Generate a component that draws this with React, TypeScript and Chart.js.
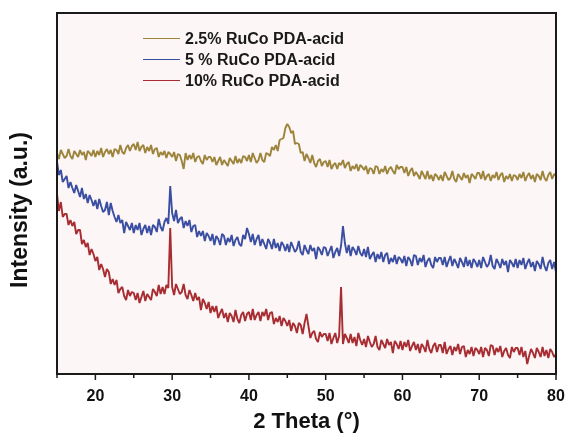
import React, { useEffect, useRef } from "react";
import { Chart, registerables } from "chart.js";

Chart.register(...registerables);

// 2θ grid: 15° to 80° in 0.25° steps (261 points)
const THETA: number[] = Array.from({ length: 261 }, (_, i) => 15 + i * 0.25);

const X_MIN = 15;
const X_MAX = 80;
const X_LABELS = [20, 30, 40, 50, 60, 70, 80];

const SERIES_NAMES = ["2.5% RuCo PDA-acid", "5 % RuCo PDA-acid", "10% RuCo PDA-acid"];

// Intensity (a.u.), one row per 5°
const GOLD: number[] = [
  221, 215, 224, 220, 216, 218, 225, 218, 215, 223, 220, 217, 224, 219, 222, 214, 223, 221, 218, 224,
  217, 223, 219, 226, 217, 222, 225, 220, 224, 217, 225, 224, 220, 229, 222, 220, 226, 229, 223, 228,
  230, 224, 232, 223, 227, 229, 221, 227, 223, 229, 220, 225, 226, 217, 222, 219, 223, 216, 222, 220,
  217, 222, 213, 220, 219, 213, 205, 221, 214, 219, 215, 221, 212, 217, 218, 213, 210, 219, 214, 217,
  217, 212, 217, 209, 213, 217, 209, 214, 211, 208, 216, 213, 210, 218, 211, 215, 211, 218, 217, 213,
  219, 212, 221, 216, 211, 214, 221, 214, 212, 221, 220, 218, 227, 224, 229, 223, 234, 235, 236, 246,
  250, 247, 241, 243, 230, 231, 230, 221, 222, 213, 220, 216, 211, 219, 211, 207, 213, 215, 208, 212,
  213, 207, 214, 205, 209, 211, 205, 211, 209, 214, 206, 210, 212, 203, 208, 205, 210, 203, 209, 207,
  204, 208, 200, 206, 205, 200, 208, 207, 200, 205, 202, 208, 200, 205, 207, 203, 200, 209, 205, 207,
  207, 201, 207, 198, 203, 206, 198, 202, 199, 195, 203, 199, 195, 203, 195, 199, 193, 200, 198, 194,
  199, 193, 202, 198, 194, 196, 203, 195, 192, 200, 197, 194, 201, 196, 199, 191, 200, 198, 195, 201,
  201, 195, 203, 194, 198, 200, 193, 199, 196, 202, 194, 199, 201, 192, 198, 195, 200, 193, 199, 198,
  194, 200, 196, 202, 193, 198, 201, 195, 199, 192, 200, 198, 194, 203, 196, 193, 199, 202, 195, 200,
  198,
];

const BLUE: number[] = [
  212, 199, 204, 192, 195, 198, 186, 192, 186, 181, 189, 183, 177, 186, 175, 180, 171, 179, 174, 168,
  174, 165, 175, 168, 162, 164, 172, 159, 171, 163, 157, 152, 159, 151, 154, 141, 152, 148, 144, 151,
  141, 149, 144, 151, 139, 145, 149, 141, 148, 139, 149, 147, 142, 155, 147, 143, 152, 156, 150, 188,
  161, 153, 164, 151, 155, 157, 146, 153, 148, 154, 142, 148, 149, 137, 143, 138, 143, 133, 141, 138,
  133, 140, 129, 138, 135, 129, 140, 138, 129, 136, 132, 139, 128, 134, 137, 130, 128, 139, 135, 146,
  140, 132, 140, 129, 135, 139, 128, 135, 130, 125, 135, 131, 125, 135, 126, 131, 123, 132, 129, 123,
  130, 122, 132, 127, 122, 125, 133, 122, 119, 129, 124, 120, 129, 123, 126, 115, 127, 124, 119, 127,
  126, 118, 123, 128, 116, 122, 126, 118, 128, 148, 131, 121, 129, 118, 127, 124, 119, 128, 121, 118,
  125, 117, 127, 115, 119, 122, 112, 120, 115, 122, 112, 119, 121, 110, 116, 112, 119, 110, 117, 115,
  111, 118, 108, 117, 114, 108, 119, 118, 109, 116, 112, 119, 107, 113, 116, 109, 106, 117, 112, 116,
  116, 109, 117, 107, 113, 118, 108, 115, 111, 106, 116, 112, 107, 117, 108, 114, 106, 115, 112, 107,
  114, 106, 117, 112, 107, 110, 119, 108, 105, 115, 111, 106, 115, 109, 113, 102, 114, 111, 107, 115,
  106, 114, 109, 116, 105, 111, 115, 107, 112, 103, 113, 110, 105, 117, 108, 103, 111, 114, 105, 112,
  102,
];

const RED: number[] = [
  180, 163, 172, 157, 160, 160, 149, 154, 148, 152, 140, 144, 144, 130, 134, 127, 131, 119, 125, 120,
  113, 117, 104, 110, 105, 97, 105, 102, 90, 95, 89, 94, 81, 85, 87, 78, 74, 84, 78, 82,
  81, 74, 81, 71, 77, 83, 73, 80, 77, 74, 85, 82, 78, 89, 80, 87, 80, 89, 86, 146,
  87, 79, 90, 85, 80, 82, 90, 79, 75, 84, 79, 73, 81, 74, 77, 64, 75, 71, 65, 72,
  61, 68, 62, 68, 56, 61, 65, 56, 61, 52, 61, 58, 52, 64, 55, 51, 59, 62, 53, 60,
  62, 54, 65, 54, 59, 62, 53, 62, 58, 65, 54, 61, 62, 50, 56, 52, 58, 48, 56, 53,
  48, 54, 43, 51, 48, 41, 51, 49, 40, 51, 60, 48, 36, 41, 43, 35, 32, 42, 37, 40,
  40, 33, 41, 30, 36, 41, 31, 38, 87, 30, 40, 36, 31, 40, 31, 37, 28, 41, 34, 29,
  35, 27, 38, 32, 27, 30, 38, 27, 24, 34, 30, 26, 35, 29, 32, 21, 33, 30, 25, 33,
  24, 32, 27, 34, 23, 28, 32, 24, 30, 21, 30, 27, 22, 34, 25, 21, 28, 31, 22, 29,
  29, 21, 32, 20, 25, 28, 19, 27, 23, 30, 20, 27, 28, 17, 24, 20, 27, 18, 26, 24,
  20, 27, 17, 26, 24, 18, 29, 28, 19, 26, 22, 28, 17, 23, 26, 19, 16, 27, 22, 26,
  26, 19, 27, 17, 23, 10, 18, 25, 21, 16, 26, 22, 17, 27, 18, 24, 16, 25, 22, 17,
  20,
];

const COLORS = ["#9d843c", "#3a4ea2", "#a82d32"];
const PLOT_BG = "#fdf6f6";
const FONT = "'Liberation Sans', Arial, Helvetica, sans-serif";

const decorPlugin = {
  id: "decor",
  beforeDraw(chart: any) {
    const { ctx, chartArea: a } = chart;
    ctx.save();
    ctx.fillStyle = "#ffffff";
    ctx.fillRect(0, 0, chart.width, chart.height);
    ctx.fillStyle = PLOT_BG;
    ctx.fillRect(a.left, a.top, a.right - a.left, a.bottom - a.top);
    ctx.restore();
  },
  afterDraw(chart: any) {
    const { ctx, chartArea: a, scales } = chart;
    const xs = scales.x;
    ctx.save();
    // frame
    ctx.strokeStyle = "#1a1a1a";
    ctx.lineWidth = 2;
    ctx.strokeRect(a.left, a.top, a.right - a.left, a.bottom - a.top);
    // tick marks (major every 10, minor every 5)
    ctx.lineWidth = 1.5;
    for (let v = X_MIN; v <= X_MAX; v += 5) {
      const px = xs.getPixelForValue(v);
      const len = v % 10 === 0 ? 6 : 4;
      ctx.beginPath();
      ctx.moveTo(px, a.bottom);
      ctx.lineTo(px, a.bottom + len);
      ctx.stroke();
    }
    // legend
    chart.data.datasets.forEach((ds: any, i: number) => {
      const yLine = 38.5 + i * 21;
      ctx.strokeStyle = ds.borderColor;
      ctx.lineWidth = 1;
      ctx.beginPath();
      ctx.moveTo(143, yLine);
      ctx.lineTo(180, yLine);
      ctx.stroke();
      ctx.fillStyle = "#1a1a1a";
      ctx.font = `bold 16px ${FONT}`;
      ctx.textAlign = "left";
      ctx.textBaseline = "alphabetic";
      ctx.fillText(ds.label, 185, 44 + i * 21);
    });
    // axis titles
    ctx.fillStyle = "#111";
    ctx.font = `bold 22px ${FONT}`;
    ctx.textAlign = "center";
    ctx.textBaseline = "alphabetic";
    ctx.fillText("2 Theta (\u00B0)", (a.left + a.right) / 2, 428);
    ctx.save();
    ctx.translate(27, 210);
    ctx.rotate(-Math.PI / 2);
    ctx.font = `bold 23px ${FONT}`;
    ctx.fillText("Intensity (a.u.)", 0, 0);
    ctx.restore();
    ctx.restore();
  },
};

export default function App() {
  const ref = useRef<HTMLCanvasElement | null>(null);

  useEffect(() => {
    if (!ref.current) return;
    const series = [GOLD, BLUE, RED];
    const chart = new Chart(ref.current, {
      type: "line",
      data: {
        datasets: series.map((vals, i) => ({
          label: SERIES_NAMES[i],
          data: THETA.map((t, j) => ({ x: t, y: vals[j] })),
          borderColor: COLORS[i],
          backgroundColor: COLORS[i],
          borderWidth: 1.9,
          borderJoinStyle: "bevel" as const,
          pointRadius: 0,
          tension: 0,
          fill: false,
        })),
      },
      options: {
        responsive: false,
        animation: false,
        layout: { padding: { left: 57, right: 12, top: 13, bottom: 0 } },
        plugins: {
          legend: { display: false },
          tooltip: { enabled: false },
        },
        scales: {
          x: {
            type: "linear",
            min: X_MIN,
            max: X_MAX,
            afterFit: (s: any) => {
              s.height = 62;
              s.paddingLeft = 0;
              s.paddingRight = 0;
            },
            grid: { display: false, drawTicks: false },
            border: { display: false },
            ticks: {
              stepSize: 5,
              autoSkip: false,
              maxRotation: 0,
              padding: 13,
              color: "#111",
              font: { family: FONT, size: 16, weight: "bold" },
              callback: (v: any) => (X_LABELS.includes(Number(v)) ? String(v) : ""),
            },
          },
          y: { display: false, min: 0, max: 361 },
        },
      },
      plugins: [decorPlugin],
    });
    return () => chart.destroy();
  }, []);

  return (
    <div style={{ position: "absolute", left: 0, top: 0, width: 568, height: 436 }}>
      <canvas ref={ref} width={568} height={436} style={{ width: 568, height: 436 }} />
    </div>
  );
}
